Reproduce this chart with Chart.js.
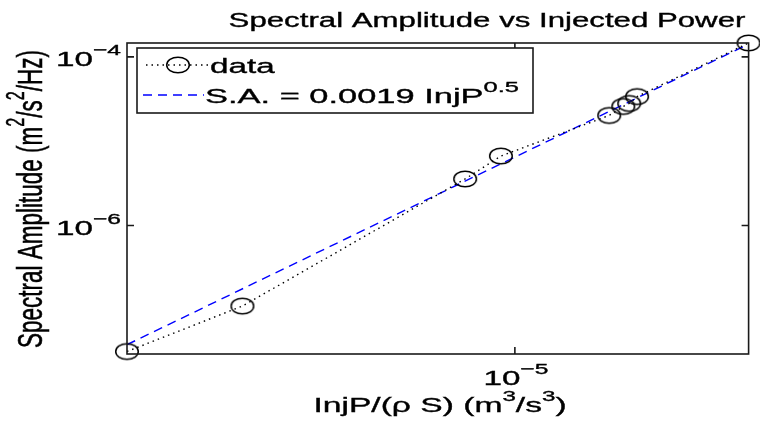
<!DOCTYPE html>
<html>
<head>
<meta charset="utf-8">
<script src="https://cdn.jsdelivr.net/npm/chart.js@4"></script>
<style>
  html, body { margin: 0; padding: 0; background: #fff; }
  #wrap { width: 760px; height: 421px; }
</style>
</head>
<body>
<div id="wrap"><canvas id="saChart" width="760" height="421"></canvas></div>
<script>
const injP    = [2.71e-10, 6.19e-9, 2.60e-6, 6.85e-6, 1.29e-4, 1.89e-4, 2.22e-4, 2.75e-4, 5.65e-3];
const specAmp = [3.21e-8, 1.11e-7, 3.57e-6, 6.67e-6, 2.02e-5, 2.58e-5, 2.80e-5, 3.38e-5, 1.46e-4];

// fitted line S.A. = 0.0019 InjP^0.5 (end points)
const fitX = [2.71e-10, 5.65e-3];
const fitY = [3.87e-8, 1.42e-4];

const xTicks = [1e-5];
const yTicks = [1e-4, 1e-6];

const SX = 1.62; // the original picture is stretched horizontally
const FONT = '"Liberation Sans", Arial, Helvetica, sans-serif';

// elliptical open circle marker
const marker = document.createElement('canvas');
marker.width = 26; marker.height = 20;
(function () {
    const c = marker.getContext('2d');
    c.strokeStyle = '#000';
    c.lineWidth = 1.5;
    c.beginPath();
    c.ellipse(13, 10, 11.3, 7.8, 0, 0, Math.PI * 2);
    c.stroke();
})();

// draw text made of [string, superscript?] parts
function rich(ctx, parts, x, y, size, align, sx, supK) {
    sx = sx || SX;
    supK = supK || 0.68;
    const sup = size * supK;
    let w = 0;
    parts.forEach(p => {
        ctx.font = (p[1] ? sup : size) + 'px ' + FONT;
        w += ctx.measureText(p[0]).width;
    });
    let cx = align === 'center' ? -w / 2 : (align === 'right' ? -w : 0);
    ctx.save();
    ctx.translate(x, y);
    ctx.scale(sx, 1);
    ctx.textAlign = 'left';
    ctx.textBaseline = 'alphabetic';
    ctx.fillStyle = '#000';
    ctx.strokeStyle = '#000';
    ctx.lineWidth = 0.35;
    parts.forEach(p => {
        ctx.font = (p[1] ? sup : size) + 'px ' + FONT;
        const yy = p[1] ? -size * 0.52 : 0;
        ctx.fillText(p[0], cx, yy);
        ctx.strokeText(p[0], cx, yy);
        cx += ctx.measureText(p[0]).width;
    });
    ctx.restore();
}

const matlabFrame = {
    id: 'matlabFrame',
    afterDraw(chart) {
        const ctx = chart.ctx;
        const a = chart.chartArea;
        const xs = chart.scales.x, ys = chart.scales.y;

        // box
        ctx.save();
        ctx.strokeStyle = '#1a1a1a';
        ctx.lineWidth = 1.6;
        ctx.strokeRect(a.left, a.top, a.right - a.left, a.bottom - a.top);

        // inward ticks
        ctx.beginPath();
        xTicks.forEach(v => {
            const px = xs.getPixelForValue(v);
            ctx.moveTo(px, a.bottom); ctx.lineTo(px, a.bottom - 7);
            ctx.moveTo(px, a.top); ctx.lineTo(px, a.top + 7);
        });
        yTicks.forEach(v => {
            const py = ys.getPixelForValue(v);
            ctx.moveTo(a.left, py); ctx.lineTo(a.left + 7, py);
            ctx.moveTo(a.right, py); ctx.lineTo(a.right - 7, py);
        });
        ctx.stroke();
        ctx.restore();

        // tick labels
        xTicks.forEach(v => {
            const px = xs.getPixelForValue(v);
            rich(ctx, [['10', false], ['\u2212' + Math.round(-Math.log10(v)), true]], px + 1, a.bottom + 31, 20.5, 'center', SX, 0.74);
        });
        yTicks.forEach(v => {
            const py = ys.getPixelForValue(v);
            rich(ctx, [['10', false], ['\u2212' + Math.round(-Math.log10(v)), true]], 56, py + 9, 20.5, 'left', SX, 0.74);
        });

        // title
        rich(ctx, [['Spectral Amplitude vs Injected Power', false]], 487, 27, 20, 'center', 1.56);

        // x title
        rich(ctx, [['InjP/(\u03c1 S) (m', false], ['3', true], ['/s', false], ['3', true], [')', false]], 440, 412, 21, 'center', 1.6, 0.72);

        // y title (rotated)
        ctx.save();
        ctx.translate(42, 199);
        ctx.rotate(-Math.PI / 2);
        ctx.scale(1, 1.55);
        rich(ctx, [['Spectral Amplitude (m', false], ['2', true], ['/s', false], ['2', true], ['/Hz)', false]], 0, 0, 22.5, 'center', 1, 0.72);
        ctx.restore();

        // legend
        ctx.save();
        ctx.fillStyle = '#fff';
        ctx.fillRect(137, 48, 396, 65);
        ctx.strokeStyle = '#1a1a1a';
        ctx.lineWidth = 1.6;
        ctx.strokeRect(137, 48, 396, 65);
        ctx.lineWidth = 1.3;
        ctx.strokeStyle = '#000';
        ctx.setLineDash([1.5, 4]);
        ctx.beginPath(); ctx.moveTo(146, 65); ctx.lineTo(208, 65); ctx.stroke();
        ctx.strokeStyle = '#0000ff';
        ctx.setLineDash([9, 6]);
        ctx.beginPath(); ctx.moveTo(143, 95); ctx.lineTo(204, 95); ctx.stroke();
        ctx.restore();
        ctx.drawImage(marker, 178 - 13, 65 - 10);
        rich(ctx, [['data', false]], 210, 73, 20.5, 'left');
        rich(ctx, [['S.A. = 0.0019 InjP', false], ['0.5', true]], 205, 103, 20.5, 'left', 1.68, 0.74);
    }
};

new Chart(document.getElementById('saChart'), {
    type: 'scatter',
    data: {
        datasets: [{
            label: 'data',
            data: injP.map((x, i) => ({ x: x, y: specAmp[i] })),
            showLine: true,
            borderColor: '#000',
            borderWidth: 1.4,
            borderDash: [1.5, 4],
            pointStyle: marker,
            pointRadius: 10,
            backgroundColor: 'transparent',
            clip: false
        }, {
            label: 'S.A. = 0.0019 InjP^0.5',
            data: fitX.map((x, i) => ({ x: x, y: fitY[i] })),
            showLine: true,
            borderColor: '#0000ff',
            borderWidth: 1.4,
            borderDash: [9, 6],
            pointRadius: 0,
            clip: false
        }]
    },
    options: {
        responsive: false,
        animation: false,
        layout: { padding: { left: 127, top: 43, right: 8, bottom: 67 } },
        plugins: {
            legend: { display: false },
            title: { display: false },
            tooltip: { enabled: false }
        },
        scales: {
            x: { type: 'logarithmic', display: false, min: 2.71e-10, max: 5.65e-3 },
            y: { type: 'logarithmic', display: false, min: 3.21e-8, max: 1.46e-4 }
        }
    },
    plugins: [matlabFrame]
});
</script>
</body>
</html>
